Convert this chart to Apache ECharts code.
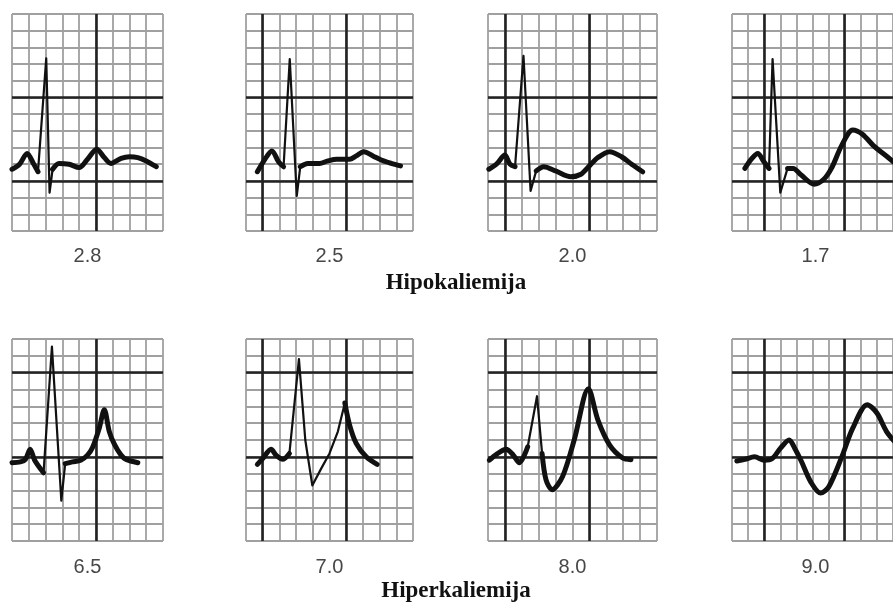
<!DOCTYPE html>
<html>
<head>
<meta charset="utf-8">
<script src="https://cdn.jsdelivr.net/npm/echarts@6/dist/echarts.min.js"></script>
<style>
  html, body { margin: 0; padding: 0; background: #fff; }
  #chart { width: 893px; height: 602px; }
</style>
</head>
<body>
<div id="chart"></div>
<script>
// potassium values under each strip
const topLabels = ['2.8', '2.5', '2.0', '1.7'];
const bottomLabels = ['6.5', '7.0', '8.0', '9.0'];
const groupTitles = ['Hipokaliemija', 'Hiperkaliemija'];

// traces in grid cells: [x from left edge, y from bottom edge]
const trace28 = [[0, 3.7], [0.45, 4.0], [0.9, 4.65], [1.3, 4.0], [1.55, 3.55], [2.04, 10.35], [2.24, 2.3], [2.42, 3.7],
  [2.8, 4.05], [3.4, 4.0], [4.0, 3.8], [4.5, 4.3], [5.05, 4.9], [5.5, 4.4], [5.9, 4.05], [6.5, 4.35], [7.0, 4.45],
  [7.5, 4.4], [8.0, 4.2], [8.6, 3.85]];
const trace25 = [[0.68, 3.55], [1.1, 4.25], [1.55, 4.8], [1.95, 4.15], [2.25, 3.85], [2.62, 10.3], [3.04, 2.1], [3.25, 3.85],
  [3.7, 4.05], [4.4, 4.05], [4.9, 4.2], [5.44, 4.3], [6.2, 4.3], [6.6, 4.5], [7.05, 4.75], [7.6, 4.5], [8.1, 4.25],
  [8.7, 4.05], [9.25, 3.9]];
const trace20 = [[0.05, 3.7], [0.5, 4.0], [1.0, 4.55], [1.3, 4.0], [1.6, 3.85], [2.1, 10.5], [2.52, 2.4], [2.85, 3.6],
  [3.3, 3.85], [4.0, 3.6], [4.9, 3.25], [5.5, 3.4], [6.0, 3.9], [6.5, 4.4], [7.2, 4.75], [7.9, 4.45], [8.5, 4.0],
  [9.15, 3.55]];
const trace17 = [[0.8, 3.75], [1.2, 4.3], [1.6, 4.65], [1.95, 4.2], [2.3, 3.75], [2.52, 10.3], [3.0, 2.3], [3.45, 3.75],
  [3.8, 3.75], [4.3, 3.35], [5.1, 2.8], [5.7, 3.1], [6.2, 3.8], [6.8, 5.1], [7.5, 6.05], [8.1, 5.8], [8.8, 5.1],
  [9.7, 4.4], [10.2, 4.0]];
const trace65 = [[0, 4.65], [0.5, 4.7], [0.8, 4.85], [1.08, 5.45], [1.35, 4.8], [1.88, 4.05], [2.38, 11.55], [2.94, 2.4],
  [3.17, 4.6], [3.6, 4.7], [4.1, 4.8], [4.5, 5.1], [4.8, 5.55], [5.2, 6.7], [5.5, 7.8], [5.8, 6.5], [6.1, 5.75],
  [6.5, 5.1], [6.8, 4.85], [7.5, 4.65]];
const trace70 = [[0.68, 4.55], [1.0, 4.9], [1.5, 5.45], [1.8, 5.1], [2.2, 4.85], [2.6, 5.2], [3.17, 10.8], [3.55, 6.0],
  [3.97, 3.3], [4.5, 4.3], [5.0, 5.2], [5.5, 6.5], [5.92, 8.2], [6.2, 6.9], [6.6, 5.8], [7.2, 5.0], [7.85, 4.55]];
const trace80 = [[0.08, 4.8], [0.5, 5.15], [1.07, 5.45], [1.5, 5.1], [1.85, 4.65], [2.35, 5.6], [2.9, 8.6], [3.2, 5.2],
  [3.43, 3.65], [3.79, 3.05], [4.42, 3.85], [5.1, 6.0], [5.94, 9.05], [6.5, 7.2], [7.2, 5.7], [7.97, 4.93], [8.46, 4.83]];
const trace90 = [[0.3, 4.75], [0.8, 4.85], [1.4, 5.0], [2.0, 4.8], [2.5, 4.9], [3.0, 5.5], [3.55, 6.0], [3.9, 5.5],
  [4.3, 4.75], [4.9, 3.5], [5.5, 2.85], [6.0, 3.2], [6.8, 4.95], [7.5, 6.7], [8.4, 8.1], [9.0, 7.6], [9.6, 6.5],
  [10.2, 5.8]];

// index ranges drawn with the fine pen (fast QRS strokes)
const thin28 = [4, 7];
const thin25 = [4, 7];
const thin20 = [4, 7];
const thin17 = [4, 7];
const thin65 = [5, 8];
const thin70 = [5, 12];
const thin80 = [5, 7];
const thin90 = null;

// cells and heavy (5 mm) lines of the paper
const colCells = [9, 10, 10, 10];
const rowCells = [13, 12];
const majorX = [[5], [1, 6], [1, 6], [2, 7]];
const majorY = [[3, 8], [5, 10]];

const traces = [trace28, trace25, trace20, trace17, trace65, trace70, trace80, trace90];
const thins = [thin28, thin25, thin20, thin17, thin65, thin70, thin80, thin90];
const labels = topLabels.concat(bottomLabels);

// layout
const colLeft = [12, 246, 488, 732];
const colWidth = [151, 167, 169, 167];
const rowTop = [14, 339];
const rowHeight = [217, 202];
const labelY = [256, 567];
const titleY = [283, 591];

const chart = echarts.init(document.getElementById('chart'));

const grids = [], xAxes = [], yAxes = [], series = [], graphics = [];

const paperLine = { show: true, lineStyle: { color: '#a0a0a0', width: 1.8 } };

traces.forEach((trace, i) => {
  const r = Math.floor(i / 4), c = i % 4;
  grids.push({ left: colLeft[c], top: rowTop[r], width: colWidth[c], height: rowHeight[r] });
  xAxes.push({
    type: 'value', gridIndex: i, min: 0, max: colCells[c], interval: 1,
    axisLine: { show: false }, axisTick: { show: false }, axisLabel: { show: false },
    splitLine: paperLine
  });
  yAxes.push({
    type: 'value', gridIndex: i, min: 0, max: rowCells[r], interval: 1,
    axisLine: { show: false }, axisTick: { show: false }, axisLabel: { show: false },
    splitLine: paperLine
  });

  const thin = thins[i];
  const thickData = trace.map((p, k) => (thin && k > thin[0] && k < thin[1]) ? [p[0], null] : p);

  series.push({
    type: 'line', xAxisIndex: i, yAxisIndex: i, data: thickData,
    symbol: 'none', smooth: 0.3, z: 3, silent: true,
    lineStyle: { color: '#111', width: 5, cap: 'round', join: 'round' },
    markLine: {
      silent: true, z: 1, symbol: ['none', 'none'], animation: false,
      label: { show: false },
      lineStyle: { color: '#222', width: 2.6, type: 'solid' },
      data: majorX[c].map(v => ({ xAxis: v })).concat(majorY[r].map(v => ({ yAxis: v })))
    }
  });
  if (thin) {
    series.push({
      type: 'line', xAxisIndex: i, yAxisIndex: i, data: trace.slice(thin[0], thin[1] + 1),
      symbol: 'none', smooth: false, z: 4, silent: true,
      lineStyle: { color: '#111', width: 2.2, cap: 'round', join: 'round' }
    });
  }

  graphics.push({
    type: 'text', x: colLeft[c] + colWidth[c] / 2, y: labelY[r],
    style: { text: labels[i], fill: '#474747', font: '20px "Liberation Sans", Arial, sans-serif', align: 'center', verticalAlign: 'middle' }
  });
});

groupTitles.forEach((t, r) => {
  graphics.push({
    type: 'text', x: 456, y: titleY[r],
    style: { text: t, fill: '#111', font: 'bold 23px "Liberation Serif", "Times New Roman", serif', align: 'center', verticalAlign: 'middle' }
  });
});

chart.setOption({
  animation: false,
  grid: grids,
  xAxis: xAxes,
  yAxis: yAxes,
  series: series,
  graphic: graphics
});
</script>
</body>
</html>
